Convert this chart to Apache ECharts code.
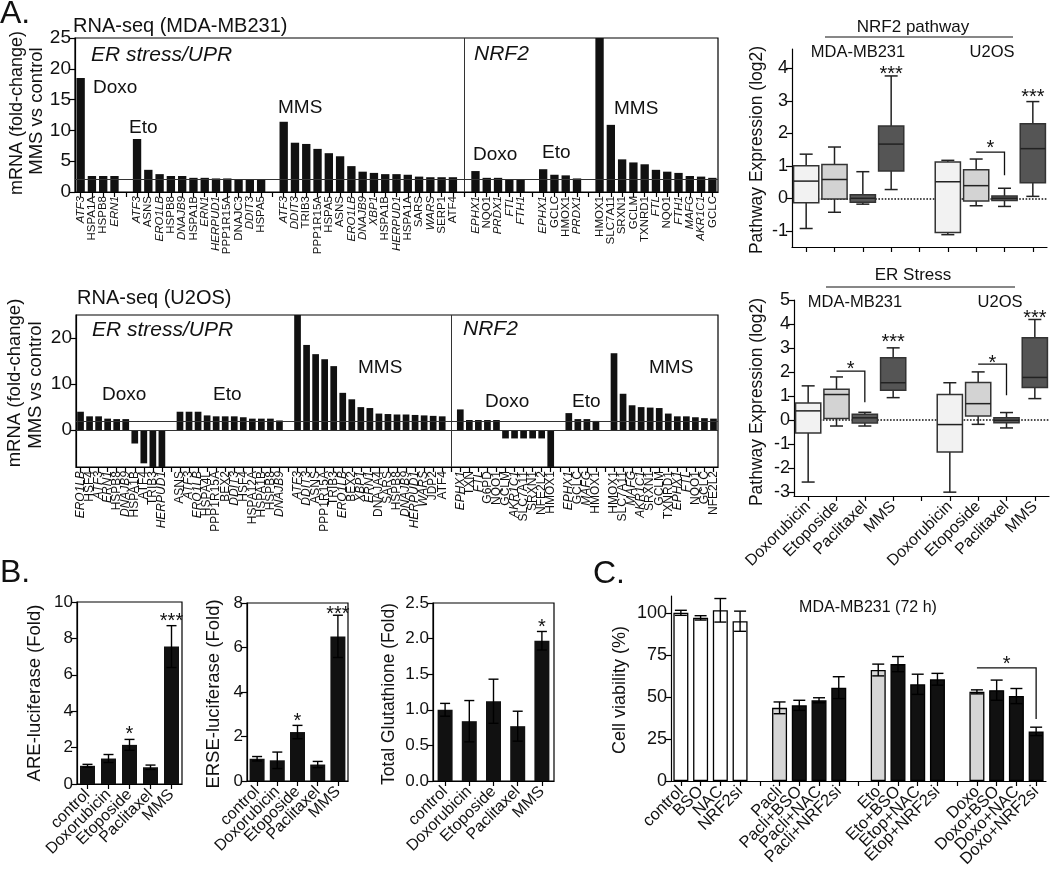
<!DOCTYPE html>
<html><head><meta charset="utf-8">
<script src="https://cdn.jsdelivr.net/npm/echarts@6/dist/echarts.min.js"></script>
<style>html,body{margin:0;padding:0;background:#fff}#c{width:1050px;height:874px}</style>
</head><body><div id="c"></div>
<script>
const FONT = 'Arial, "Liberation Sans", Helvetica, sans-serif';

// ---------- Panel A: RNA-seq MDA-MB231 ('' = spacer column) ----------
const mdaErGenes = ['ATF3','HSPA1A','HSPB8','ERN1','',
  'ATF3','ASNS','ERO1LB','HSPB8','DNAJB9','HSPA1B','ERN1','HERPUD1','PPP1R15A','DNAJC3','DDIT3','HSPA5','',
  'ATF3','DDIT3','TRIB3','PPP1R15A','HSPA5','ASNS','ERO1LB','DNAJB9','XBP1','HSPA1B','HERPUD1','HSPA1A','SARS','WARS','SERP1','ATF4'];
const mdaErFold = [18.5,2.6,2.6,2.6,null,
  8.6,3.6,2.9,2.6,2.6,2.3,2.3,2.2,2.2,2.0,2.0,2.0,null,
  11.4,8.0,7.8,7.0,6.3,5.8,4.2,3.3,3.1,2.9,2.9,2.8,2.5,2.4,2.4,2.4];
const mdaNrf2Genes = ['EPHX1','NQO1','PRDX1','FTL','FTH1','',
  'EPHX1','GCLC','HMOX1','PRDX1','',
  'HMOX1','SLC7A11','SRXN1','GCLM','TXNRD1','FTL','NQO1','FTH1','MAFG','AKR1C1','GCLC'];
const mdaNrf2Fold = [3.4,2.3,2.3,2.0,2.0,null,
  3.7,2.8,2.7,2.2,null,
  27,10.9,5.3,4.8,4.5,3.6,3.3,3.1,2.6,2.5,2.3];

// ---------- Panel A: RNA-seq U2OS ----------
const u2osErGenes = ['ERO1LB','HSF4','ATF3','ERN1','HSPB8','DNAJB9','HSPA1B','ATF4','TRIB3','HERPUD1','',
  'ASNS','ATF3','ERO1LB','HSPA4L','PPP1R15A','BEX2','DDIT3','HSF4','HSPA12A','HSPA1B','HSPB8','DNAJB9','',
  'ATF3','DDIT3','ASNS','PPP1R15A','TRIB3','ERO1LB','BEX2','XBP1','ERN1','DNAJA4','SARS','HSPB8','DNAJB9','HERPUD1','WARS','JDP2','ATF4'];
const u2osErFold = [4.0,3.0,3.0,2.5,2.4,2.4,-2.9,-7.2,-9,-9,null,
  4.0,4.0,4.0,3.2,3.0,3.0,3.0,2.8,2.5,2.5,2.5,2.1,null,
  27,18.5,16.5,15.4,13.9,8.1,6.7,5.0,4.8,3.6,3.5,3.4,3.4,3.3,3.2,3.1,3.0];
const u2osNrf2Genes = ['EPHX1','TXN','FTL','G6PD','NQO1','GCLM','AKR1C1','SLC7A11','SRXN1','NFE2L2','HMOX1','',
  'EPHX1','GCLC','MAFG','HMOX1','',
  'HMOX1','SLC7A11','MAFG','AKR1C1','SRXN1','GCLM','TXNRD1','EPHX1','FTL','NQO1','GCLC','NFE2L2'];
const u2osNrf2Fold = [4.5,2.2,2.2,2.2,2.2,-1.8,-1.8,-1.8,-1.8,-1.8,-9,null,
  3.7,2.4,2.4,2.0,null,
  16.7,7.9,5.4,5.0,4.9,4.8,3.6,3.0,3.0,2.8,2.6,2.5];
const foldThreshold = 2;

// ---------- Pathway box plots: [min, Q1, median, Q3, max] ----------
const boxCats = ['Doxorubicin','Etoposide','Paclitaxel','MMS','','Doxorubicin','Etoposide','Paclitaxel','MMS'];
const nrf2Box = [[-0.93,-0.14,0.53,1.0,1.36],[-0.43,-0.02,0.58,1.04,1.58],[-0.18,-0.12,0.0,0.11,0.82],[0.27,0.84,1.67,2.23,3.77],null,
  [-1.12,-1.05,0.51,1.12,1.17],[-0.23,-0.08,0.39,0.88,1.21],[-0.25,-0.07,0.0,0.07,0.31],[0.06,0.48,1.53,2.3,2.98]];
const erBox = [[-2.57,-0.53,0.39,0.72,1.43],[-0.24,0.07,1.07,1.29,1.8],[-0.24,-0.11,0.1,0.25,0.33],[0.94,1.25,1.56,2.6,3.01],null,
  [-2.99,-1.32,-0.18,1.07,1.56],[-0.17,0.18,0.69,1.57,2.01],[-0.32,-0.1,0.0,0.1,0.32],[0.9,1.36,1.78,3.43,4.19]];

// ---------- Panel B ----------
const bCats = ['control','Doxorubicin','Etoposide','Paclitaxel','MMS'];
const areMean = [1.0,1.4,2.15,0.92,7.55];
const areErr = [0.08,0.22,0.3,0.12,1.15];
const erseMean = [1.0,0.93,2.2,0.74,6.5];
const erseErr = [0.1,0.37,0.3,0.14,0.95];
const gshMean = [1.0,0.84,1.12,0.77,1.97];
const gshErr = [0.09,0.29,0.31,0.21,0.13];

// ---------- Panel C ----------
const cCats = ['control','BSO','NAC','NRF2si','','Pacli','Pacli+BSO','Pacli+NAC','Pacli+NRF2si','',
  'Eto','Eto+BSO','Etop+NAC','Etop+NRF2si','','Doxo','Doxo+BSO','Doxo+NAC','Doxo+NRF2si'];
const cMean = [100,97,101.5,95,null,43.5,45,48,55.5,null,66,69.5,57.5,60.5,null,53,54,50.5,29.5];
const cErr = [1.5,1.3,7,6,null,3.5,3,1.5,6.5,null,3.5,4.5,6,3.5,null,1.2,6,4.5,2.5];

// ---------- significance annotations [axis, category position, value, text] ----------
const sigStars = [
  [2,3,3.95,'***'],[2,8,3.24,'***'],[2,6.5,1.67,'*'],
  [3,1.5,2.29,'*'],[3,3,3.42,'***'],[3,6.5,2.54,'*'],[3,8,4.42,'***'],
  [4,2,2.97,'*'],[4,4,9.18,'***'],
  [5,2,2.88,'*'],[5,4,7.7,'***'],
  [6,4,2.22,'*'],
  [7,16.5,72,'*']];
// brackets [axis, from category, to category, top value, end value]
const sigBrackets = [[2,6,7,1.42,0.71],[3,1,2,2.04,0.75],[3,6,7,2.33,1.04],[7,15,18,67.3,36.9]];

// ---------- styles ----------
const italicGenes = ['ATF3','ERN1','ERO1LB','DDIT3','XBP1','EPHX1','FTL','FTH1','PRDX1','MAFG','DNAJB9','HERPUD1','AKR1C1','WARS'];
const boxFill = {Doxorubicin:'#f2f2f2', Etoposide:'#d3d3d3', Paclitaxel:'#5a5a5a', MMS:'#555555'};
const cFill = name => ['control','BSO','NAC','NRF2si'].includes(name) ? '#ffffff' : (['Pacli','Eto','Doxo'].includes(name) ? '#d6d6d6' : '#111111');

const mdaGenes = [...mdaErGenes, '', ...mdaNrf2Genes];
const mdaFold = [...mdaErFold, null, ...mdaNrf2Fold];
const u2osGenes = [...u2osErGenes, '', ...u2osNrf2Genes];
const u2osFold = [...u2osErFold, null, ...u2osNrf2Fold];

const chart = echarts.init(document.getElementById('c'), null, {renderer:'canvas'});

function catAxis(gi, data, label) {
  return {type:'category', gridIndex:gi, data, boundaryGap:true,
    axisLine:{show:true, onZero:false, lineStyle:{color:'#000', width:1.2}},
    axisTick:{show:true, alignWithLabel:true, interval:0, length:5, lineStyle:{color:'#000', width:1.2}},
    axisLabel:Object.assign({interval:0, color:'#111', fontFamily:FONT}, label),
    splitLine:{show:false}};
}
function valAxis(gi, o, label, tick) {
  return Object.assign({type:'value', gridIndex:gi,
    axisLine:{show:true, onZero:false, lineStyle:{color:'#000', width:1.2}},
    axisTick:Object.assign({show:true, length:6, lineStyle:{color:'#000', width:1.2}}, tick||{}),
    splitLine:{show:false},
    axisLabel:Object.assign({color:'#111', fontSize:19, fontFamily:FONT, margin:4}, label||{})}, o);
}
const geneLabel = size => ({rotate:90, fontSize:size, margin:4,
  formatter: v => v ? (italicGenes.includes(v) ? '{i|' + v + '}' : v) : '',
  rich:{i:{fontStyle:'italic', fontSize:size, fontFamily:FONT, color:'#111'}}});

function errRender(halfCap) {
  return function (params, api) {
    const i = api.value(0), m = api.value(1), e = api.value(2);
    const top = api.coord([i, m + e]), bot = api.coord([i, m - e]);
    const x = top[0];
    const st = {stroke:'#000', lineWidth:1.4};
    return {type:'group', children:[
      {type:'line', shape:{x1:x, y1:top[1], x2:x, y2:bot[1]}, style:st},
      {type:'line', shape:{x1:x-halfCap, y1:top[1], x2:x+halfCap, y2:top[1]}, style:st},
      {type:'line', shape:{x1:x-halfCap, y1:bot[1], x2:x+halfCap, y2:bot[1]}, style:st}]};
  };
}
function boxRender(params, api) {
  const i = api.value(0);
  const p = [1,2,3,4,5].map(k => api.coord([i, api.value(k)]));
  const x = p[0][0], hw = 12.6, cw = 6.5;
  const st = {stroke:'#222', lineWidth:1.5};
  return {type:'group', children:[
    {type:'line', shape:{x1:x, y1:p[4][1], x2:x, y2:p[3][1]}, style:st},
    {type:'line', shape:{x1:x, y1:p[1][1], x2:x, y2:p[0][1]}, style:st},
    {type:'line', shape:{x1:x-cw, y1:p[4][1], x2:x+cw, y2:p[4][1]}, style:st},
    {type:'line', shape:{x1:x-cw, y1:p[0][1], x2:x+cw, y2:p[0][1]}, style:st},
    {type:'rect', shape:{x:x-hw, y:p[3][1], width:2*hw, height:p[1][1]-p[3][1]}, style:{fill:boxFill[boxCats[i]], stroke:'#333', lineWidth:1.5}},
    {type:'line', shape:{x1:x-hw, y1:p[2][1], x2:x+hw, y2:p[2][1]}, style:{stroke:'#222', lineWidth:1.5}}]};
}
const boxData = arr => arr.map((b, i) => b ? [i, ...b] : null).filter(Boolean);
const errData = (m, e) => m.map((v, i) => v == null ? null : [i, v, e[i]]).filter(Boolean);
const mk = {symbol:'none', silent:true, animation:false, label:{show:false}};

const option = {
  animation:false,
  backgroundColor:'#fff',
  textStyle:{fontFamily:FONT},
  grid:[
    {left:75, top:38, width:643, height:154, show:true, borderColor:'#000', borderWidth:1.2},
    {left:76, top:315, width:642, height:152, show:true, borderColor:'#000', borderWidth:1.2},
    {left:792, top:49, width:255, height:198},
    {left:794, top:300, width:255, height:196},
    {left:77, top:602, width:105, height:182, show:true, borderColor:'#000', borderWidth:1.2},
    {left:247, top:603, width:101, height:178, show:true, borderColor:'#000', borderWidth:1.2},
    {left:433, top:603, width:121, height:178, show:true, borderColor:'#000', borderWidth:1.2},
    {left:671, top:596, width:375, height:185}
  ],
  xAxis:[
    catAxis(0, mdaGenes, geneLabel(11.5)),
    catAxis(1, u2osGenes, geneLabel(12)),
    catAxis(2, boxCats, {show:false}),
    catAxis(3, boxCats, {rotate:45, fontSize:16, margin:8}),
    catAxis(4, bCats, {rotate:45, fontSize:16, margin:8}),
    catAxis(5, bCats, {rotate:45, fontSize:16, margin:8}),
    catAxis(6, bCats, {rotate:45, fontSize:16, margin:8}),
    catAxis(7, cCats, {rotate:45, fontSize:16.5, margin:8})
  ],
  yAxis:[
    valAxis(0, {min:0, max:25, interval:5}),
    valAxis(1, {min:-8, max:25}, {customValues:[0,10,20]}, {customValues:[0,10,20]}),
    valAxis(2, {min:-1.5, max:4.6}, {fontSize:18, customValues:[-1,0,1,2,3,4]}, {customValues:[-1,0,1,2,3,4]}),
    valAxis(3, {min:-3.15, max:5}, {fontSize:18, customValues:[-3,-2,-1,0,1,2,3,4,5]}, {customValues:[-3,-2,-1,0,1,2,3,4,5]}),
    valAxis(4, {min:0, max:10, interval:2}, {fontSize:17}),
    valAxis(5, {min:0, max:8, interval:2}, {fontSize:17}),
    valAxis(6, {min:0, max:2.5, interval:0.5}, {fontSize:17, formatter:v => v.toFixed(1)}),
    valAxis(7, {min:0, max:110}, {fontSize:18, customValues:[0,25,50,75,100]}, {customValues:[0,25,50,75,100]})
  ],
  series:[
    {type:'bar', xAxisIndex:0, yAxisIndex:0, data:mdaFold, barCategoryGap:'26%', itemStyle:{color:'#111'},
      markLine:Object.assign({lineStyle:{color:'#333', width:1, type:'solid'}, data:[{yAxis:foldThreshold},{xAxis:mdaErGenes.length}]}, mk)},
    {type:'bar', xAxisIndex:1, yAxisIndex:1, data:u2osFold, barCategoryGap:'26%', itemStyle:{color:'#111'},
      markLine:Object.assign({lineStyle:{color:'#333', width:1, type:'solid'}, data:[{yAxis:0},{yAxis:foldThreshold},{xAxis:u2osErGenes.length}]}, mk)},
    {type:'line', xAxisIndex:2, yAxisIndex:2, data:[], z:1,
      markLine:Object.assign({lineStyle:{color:'#111', width:1.6, type:'dotted'}, data:[{yAxis:0}]}, mk)},
    {type:'custom', xAxisIndex:2, yAxisIndex:2, z:5, data:boxData(nrf2Box), encode:{x:0, y:[1,2,3,4,5]}, renderItem:boxRender},
    {type:'line', xAxisIndex:3, yAxisIndex:3, data:[], z:1,
      markLine:Object.assign({lineStyle:{color:'#111', width:1.6, type:'dotted'}, data:[{yAxis:0}]}, mk)},
    {type:'custom', xAxisIndex:3, yAxisIndex:3, z:5, data:boxData(erBox), encode:{x:0, y:[1,2,3,4,5]}, renderItem:boxRender},
    {type:'bar', xAxisIndex:4, yAxisIndex:4, data:areMean, barWidth:15, itemStyle:{color:'#111'}},
    {type:'custom', xAxisIndex:4, yAxisIndex:4, z:5, data:errData(areMean, areErr), encode:{x:0, y:1}, renderItem:errRender(5)},
    {type:'bar', xAxisIndex:5, yAxisIndex:5, data:erseMean, barWidth:15, itemStyle:{color:'#111'}},
    {type:'custom', xAxisIndex:5, yAxisIndex:5, z:5, data:errData(erseMean, erseErr), encode:{x:0, y:1}, renderItem:errRender(5)},
    {type:'bar', xAxisIndex:6, yAxisIndex:6, data:gshMean, barWidth:15, itemStyle:{color:'#111'}},
    {type:'custom', xAxisIndex:6, yAxisIndex:6, z:5, data:errData(gshMean, gshErr), encode:{x:0, y:1}, renderItem:errRender(5)},
    {type:'bar', xAxisIndex:7, yAxisIndex:7, barWidth:15,
      data:cMean.map((v, i) => v == null ? null : {value:v, itemStyle:{color:cFill(cCats[i]), borderColor:'#000', borderWidth:1.3}})},
    {type:'custom', xAxisIndex:7, yAxisIndex:7, z:5, data:errData(cMean, cErr), encode:{x:0, y:1}, renderItem:errRender(6)}
  ]
};
chart.setOption(option);

// ---------- text & annotation graphics ----------
function txt(text, x, y, size, o) {
  o = o || {};
  const font = (o.italic ? 'italic ' : '') + size + 'px ' + FONT;
  return {type:'text', x, y, rotation:o.rot ? Math.PI/2 : 0, silent:true, z:100,
    style:{text, fill:'#111', font, textAlign:o.align||'left', textVerticalAlign:'middle', align:o.align||'left', verticalAlign:'middle'}};
}
const R = {rot:true, align:'center'}, C = {align:'center'}, I = {italic:true};
const graphics = [
  txt('A.', 0, 14, 32),
  txt('RNA-seq (MDA-MB231)', 73, 26, 20),
  txt('ER stress/UPR', 91, 55, 21, I),
  txt('Doxo', 93, 88, 19), txt('Eto', 129, 128, 19), txt('MMS', 278, 108, 19),
  txt('NRF2', 474, 54, 21, I),
  txt('Doxo', 473, 155, 19), txt('Eto', 542, 153, 19), txt('MMS', 614, 109, 19),
  txt('mRNA (fold-change)', 17, 113, 18, R), txt('MMS vs control', 37, 111, 18.5, R),
  txt('RNA-seq (U2OS)', 77, 298, 20),
  txt('ER stress/UPR', 92, 330, 21, I),
  txt('Doxo', 102, 395, 19), txt('Eto', 213, 395, 19), txt('MMS', 358, 368, 19),
  txt('NRF2', 463, 329, 21, I),
  txt('Doxo', 485, 402, 19), txt('Eto', 572, 402, 19), txt('MMS', 649, 368, 19),
  txt('mRNA (fold-change)', 15, 383, 18.5, R), txt('MMS vs control', 36, 385, 18.5, R),
  txt('NRF2 pathway', 913, 27, 17, C), txt('MDA-MB231', 858, 52, 16.5, C), txt('U2OS', 992, 52, 16.5, C),
  txt('ER Stress', 913, 275, 17, C), txt('MDA-MB231', 855, 302, 16.5, C), txt('U2OS', 1000, 302, 16.5, C),
  txt('Pathway Expression (log2)', 757, 150, 17.5, R), txt('Pathway Expression (log2)', 757, 402, 17.5, R),
  txt('B.', 0, 573, 32), txt('C.', 593, 574, 32),
  txt('ARE-luciferase (Fold)', 35, 693, 18.5, R), txt('ERSE-luciferase (Fold)', 214, 694, 18.5, R),
  txt('Total Glutathione (Fold)', 389, 694, 17.5, R), txt('Cell viability (%)', 620, 690, 18, R),
  txt('MDA-MB231 (72 h)', 868, 608, 16, C),
  {type:'line', silent:true, shape:{x1:825, y1:37, x2:1013, y2:37}, style:{stroke:'#111', lineWidth:1.2}},
  {type:'line', silent:true, shape:{x1:826, y1:287, x2:1015, y2:287}, style:{stroke:'#111', lineWidth:1.2}}
];
function px(g, xi, yv) {
  const a = Math.floor(xi), b = Math.ceil(xi);
  const pa = chart.convertToPixel({xAxisIndex:g, yAxisIndex:g}, [a, yv]);
  if (a === b) return pa;
  const pb = chart.convertToPixel({xAxisIndex:g, yAxisIndex:g}, [b, yv]);
  return [pa[0] + (pb[0] - pa[0]) * (xi - a), pa[1]];
}
const starSize = 20;
sigStars.forEach(([g, xi, v, t]) => {
  const p = px(g, xi, v);
  graphics.push(txt(t, p[0], p[1] + starSize * 0.22, starSize, C));
});
sigBrackets.forEach(([g, a, b, top, end]) => {
  const p1 = px(g, a, top), p2 = px(g, b, top), p3 = px(g, b, end);
  graphics.push({type:'polyline', silent:true, z:100, shape:{points:[p1, p2, p3]}, style:{stroke:'#111', lineWidth:1.3, fill:null}});
});
chart.setOption({graphic:graphics});
</script>
</body></html>
